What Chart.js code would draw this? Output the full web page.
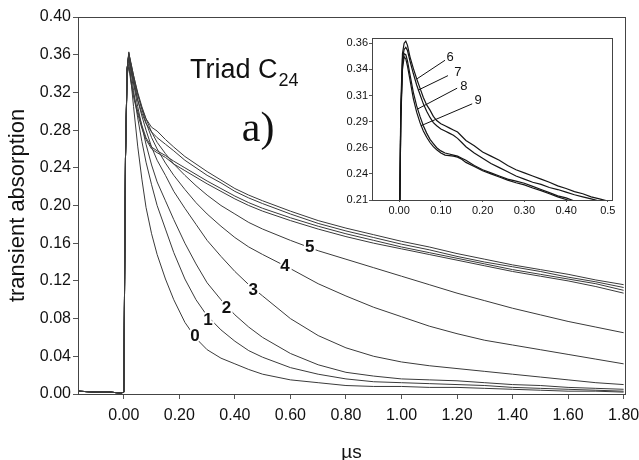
<!DOCTYPE html>
<html>
<head>
<meta charset="utf-8">
<script src="https://cdn.jsdelivr.net/npm/chart.js@4.4.1/dist/chart.umd.min.js"></script>
<style>
  html,body{margin:0;padding:0;background:#fff;}
  #wrap{position:relative;width:639px;height:460px;}
  #main{position:absolute;left:0;top:0;width:639px;height:460px;}
  #inset{position:absolute;left:330px;top:28px;width:292px;height:195px;}
</style>
</head>
<body>
<div id="wrap">
  <canvas id="main" width="639" height="460"></canvas>
  <canvas id="inset" width="292" height="195"></canvas>
</div>
<script>
// ---- main panel data (time in µs, transient absorption) ----
const time = [-0.165,-0.1,-0.05,-0.01,0.0,0.006,0.012,0.018,0.025,0.035,0.05,0.065,0.08,0.1,0.12,0.15,0.18,0.22,0.26,0.3,0.35,0.4,0.45,0.5,0.6,0.7,0.8,0.9,1.0,1.1,1.2,1.3,1.4,1.5,1.6,1.7,1.8];
const curve0 = [0.003,0.002,0.002,0.001,0.002,0.25,0.345,0.362,0.335,0.305,0.263,0.228,0.198,0.170,0.148,0.122,0.100,0.076,0.059,0.047,0.038,0.032,0.026,0.021,0.015,0.012,0.009,0.008,0.008,0.007,0.007,0.006,0.005,0.004,0.003,0.003,0.002];
const curve1 = [0.003,0.002,0.002,0.001,0.002,0.25,0.345,0.360,0.345,0.322,0.293,0.268,0.246,0.222,0.200,0.175,0.150,0.122,0.100,0.083,0.068,0.056,0.046,0.039,0.028,0.021,0.016,0.013,0.012,0.011,0.010,0.009,0.007,0.006,0.005,0.004,0.003];
const curve2 = [0.003,0.002,0.002,0.001,0.002,0.25,0.345,0.360,0.347,0.330,0.305,0.284,0.265,0.243,0.225,0.205,0.185,0.160,0.138,0.118,0.100,0.084,0.071,0.060,0.043,0.031,0.023,0.019,0.016,0.015,0.014,0.012,0.010,0.009,0.007,0.006,0.005];
const curve3 = [0.003,0.002,0.002,0.001,0.002,0.25,0.345,0.360,0.350,0.335,0.312,0.295,0.280,0.262,0.248,0.232,0.215,0.197,0.180,0.163,0.146,0.130,0.116,0.104,0.080,0.062,0.049,0.040,0.034,0.030,0.027,0.024,0.021,0.018,0.015,0.012,0.010];
const curve4 = [0.003,0.002,0.002,0.001,0.002,0.25,0.345,0.361,0.352,0.338,0.318,0.302,0.288,0.272,0.260,0.245,0.232,0.217,0.203,0.191,0.178,0.166,0.156,0.148,0.133,0.117,0.104,0.092,0.082,0.072,0.064,0.057,0.052,0.047,0.042,0.037,0.032];
const curve5 = [0.003,0.002,0.002,0.001,0.002,0.25,0.345,0.361,0.352,0.338,0.320,0.305,0.292,0.278,0.267,0.255,0.244,0.232,0.221,0.211,0.200,0.191,0.182,0.175,0.163,0.152,0.143,0.134,0.125,0.116,0.107,0.099,0.091,0.084,0.077,0.071,0.065];
const curve6 = [0.003,0.002,0.002,0.001,0.002,0.25,0.345,0.363,0.350,0.335,0.318,0.303,0.292,0.283,0.279,0.270,0.262,0.252,0.244,0.236,0.227,0.218,0.211,0.205,0.194,0.184,0.176,0.169,0.162,0.156,0.149,0.143,0.137,0.132,0.127,0.121,0.116];
const curve7 = [0.003,0.002,0.002,0.001,0.002,0.25,0.345,0.357,0.345,0.330,0.312,0.298,0.287,0.278,0.272,0.265,0.258,0.248,0.240,0.232,0.224,0.215,0.208,0.202,0.191,0.181,0.173,0.166,0.159,0.153,0.146,0.140,0.135,0.130,0.124,0.119,0.113];
const curve8 = [0.003,0.002,0.002,0.001,0.002,0.25,0.340,0.350,0.335,0.318,0.300,0.285,0.272,0.262,0.258,0.253,0.247,0.240,0.233,0.226,0.218,0.210,0.203,0.197,0.187,0.178,0.170,0.163,0.156,0.150,0.144,0.138,0.132,0.127,0.122,0.117,0.110];
const curve9 = [0.003,0.002,0.002,0.001,0.002,0.25,0.338,0.347,0.332,0.315,0.297,0.282,0.270,0.260,0.256,0.251,0.244,0.237,0.230,0.223,0.215,0.207,0.200,0.194,0.184,0.175,0.167,0.160,0.154,0.148,0.142,0.136,0.130,0.125,0.120,0.114,0.107];
const mainCurves = [curve0,curve1,curve2,curve3,curve4,curve5,curve6,curve7,curve8,curve9];

const xTicks = [0,0.2,0.4,0.6,0.8,1.0,1.2,1.4,1.6,1.8];
const yTicks = [0,0.04,0.08,0.12,0.16,0.20,0.24,0.28,0.32,0.36,0.40];

// curve numbers written on the main panel
const curveLabels = ['0','1','2','3','4','5'];
const curveLabelT = [0.256,0.303,0.370,0.466,0.580,0.670];
const curveLabelV = [0.0608,0.0785,0.0910,0.1104,0.1351,0.1557];

// ---- inset data (first 0.5 µs of curves 6..9) ----
const insetTime = [-0.065,-0.004,0.0,0.004,0.008,0.012,0.016,0.02,0.026,0.034,0.042,0.05,0.058,0.066,0.074,0.082,0.09,0.1,0.11,0.12,0.13,0.14,0.15,0.16,0.18,0.2,0.22,0.24,0.26,0.28,0.3,0.32,0.34,0.36,0.38,0.4,0.42,0.44,0.46,0.48,0.5];
const inset6 = [0.002,0.002,0.15,0.30,0.35,0.360,0.362,0.358,0.347,0.336,0.326,0.317,0.308,0.301,0.296,0.290,0.286,0.283,0.281,0.279,0.277,0.275,0.271,0.267,0.262,0.256,0.252,0.248,0.243,0.239,0.236,0.233,0.230,0.227,0.2235,0.221,0.218,0.216,0.213,0.211,0.209];
const inset7 = [0.002,0.002,0.15,0.29,0.345,0.354,0.356,0.353,0.343,0.331,0.320,0.311,0.302,0.295,0.289,0.284,0.281,0.278,0.276,0.274,0.272,0.269,0.265,0.261,0.255,0.250,0.245,0.241,0.237,0.233,0.230,0.227,0.225,0.222,0.220,0.2175,0.215,0.213,0.211,0.209,0.207];
const inset8 = [0.002,0.002,0.15,0.29,0.34,0.350,0.349,0.343,0.330,0.313,0.300,0.290,0.281,0.274,0.268,0.264,0.260,0.257,0.255,0.254,0.253,0.252,0.250,0.248,0.243,0.239,0.236,0.233,0.230,0.228,0.226,0.223,0.220,0.217,0.214,0.212,0.209,0.207,0.205,0.203,0.201];
const inset9 = [0.002,0.002,0.15,0.285,0.335,0.347,0.345,0.338,0.325,0.307,0.294,0.284,0.276,0.270,0.265,0.261,0.258,0.255,0.253,0.2525,0.252,0.251,0.249,0.246,0.242,0.238,0.235,0.232,0.229,0.2265,0.2245,0.2215,0.219,0.216,0.213,0.2105,0.208,0.206,0.204,0.202,0.200];
const insetCurves = [inset6,inset7,inset8,inset9];

const insetXTicks = [0,0.1,0.2,0.3,0.4,0.5];
const insetXLabels = ['0.00','0.10','0.20','0.30','0.40','0.5'];
const insetYTicks = [0.21,0.235,0.26,0.285,0.31,0.335,0.36];
const insetYLabels = ['0.21','0.24','0.26','0.29','0.31','0.34','0.36'];

// inset numbers with their leader lines
const insetLabels = ['6','7','8','9'];
const insetLabelT = [0.122,0.141,0.155,0.189];
const insetLabelV = [0.3462,0.3325,0.3185,0.3055];
const leaderStartT = [0.110,0.117,0.139,0.175];
const leaderStartV = [0.3437,0.329,0.317,0.302];
const leaderEndT = [0.043,0.045,0.044,0.052];
const leaderEndV = [0.326,0.315,0.297,0.281];

const SANS = '"Liberation Sans", Arial, Helvetica, sans-serif';
const SERIF = '"Liberation Serif", "Times New Roman", serif';
const LINE = '#3a3a3a';

function pts(xs, ys){ return xs.map((x,i)=>({x, y: ys[i]})); }

// box around the plotting area
const frame = {
  id:'frame',
  afterDraw(chart){
    const {ctx, chartArea:a} = chart;
    ctx.save();
    ctx.strokeStyle = '#444';
    ctx.lineWidth = 1;
    ctx.strokeRect(Math.round(a.left)+0.5, Math.round(a.top)+0.5, Math.round(a.right-a.left), Math.round(a.bottom-a.top));
    ctx.restore();
  }
};

// text written on the main panel
const mainText = {
  id:'mainText',
  afterDatasetsDraw(chart){
    const {ctx, scales:{x, y}} = chart;
    ctx.save();
    ctx.textAlign = 'center';
    ctx.textBaseline = 'middle';
    ctx.font = 'bold 17px ' + SANS;
    curveLabels.forEach((s,i)=>{
      const px = x.getPixelForValue(curveLabelT[i]), py = y.getPixelForValue(curveLabelV[i]);
      ctx.lineWidth = 4; ctx.strokeStyle = '#fff'; ctx.strokeText(s, px, py);
      ctx.fillStyle = '#111'; ctx.fillText(s, px, py);
    });
    // "Triad C24"
    ctx.textAlign = 'left';
    ctx.textBaseline = 'alphabetic';
    ctx.fillStyle = '#111';
    ctx.font = '27px ' + SANS;
    const tx = x.getPixelForValue(0.238), ty = y.getPixelForValue(0.335);
    ctx.fillText('Triad C', tx, ty);
    const w = ctx.measureText('Triad C').width;
    ctx.font = '18px ' + SANS;
    ctx.fillText('24', tx + w + 1, ty + 8);
    // "a)"
    ctx.font = '42px ' + SERIF;
    ctx.fillText('a)', x.getPixelForValue(0.425), y.getPixelForValue(0.268));
    ctx.restore();
  }
};

new Chart(document.getElementById('main'), {
  type:'line',
  data:{ datasets: mainCurves.map(c=>({
    data: pts(time, c), borderColor: LINE, borderWidth: 1, pointRadius: 0, tension: 0
  })) },
  options:{
    responsive:false, animation:false,
    layout:{ padding:{ top:17, right:14, bottom:0, left:0 } },
    plugins:{ legend:{display:false}, tooltip:{enabled:false} },
    scales:{
      x:{ type:'linear', min:-0.165, max:1.805,
        afterBuildTicks:s=>{ s.ticks = xTicks.map(v=>({value:v})); },
        afterFit:s=>{ s.height = 66; s.paddingLeft = 0; s.paddingRight = 0; },
        ticks:{ font:{family:SANS, size:16}, color:'#111', padding:7, maxRotation:0, callback:v=>v.toFixed(2) },
        grid:{ drawOnChartArea:false, tickLength:5, color:'#555' },
        border:{ color:'#333' },
        title:{ display:true, text:'µs', font:{family:SANS, size:19, lineHeight:1}, color:'#111', padding:{top:0, bottom:-2} }
      },
      y:{ min:0, max:0.40,
        afterBuildTicks:s=>{ s.ticks = yTicks.map(v=>({value:v})); },
        afterFit:s=>{ s.width = 78; s.paddingTop = 0; s.paddingBottom = 0; },
        ticks:{ font:{family:SANS, size:16}, color:'#111', padding:2, callback:v=>v.toFixed(2) },
        grid:{ drawOnChartArea:false, tickLength:5, color:'#555' },
        border:{ color:'#333' },
        title:{ display:true, text:'transient absorption', font:{family:SANS, size:22, lineHeight:1.2}, color:'#111', padding:{top:5, bottom:0} }
      }
    }
  },
  plugins:[frame, mainText]
});

// numbers 6..9 in the inset
const insetText = {
  id:'insetText',
  afterDatasetsDraw(chart){
    const {ctx, scales:{x, y}} = chart;
    ctx.save();
    ctx.font = '13px ' + SANS;
    ctx.fillStyle = '#111';
    ctx.textAlign = 'center';
    ctx.textBaseline = 'middle';
    insetLabels.forEach((s,i)=>{
      ctx.fillText(s, x.getPixelForValue(insetLabelT[i]), y.getPixelForValue(insetLabelV[i]));
    });
    ctx.restore();
  }
};

const leaderSets = insetLabels.map((s,i)=>({
  data:[{x:leaderStartT[i], y:leaderStartV[i]}, {x:leaderEndT[i], y:leaderEndV[i]}],
  borderColor:'#111', borderWidth:1, pointRadius:0
}));

new Chart(document.getElementById('inset'), {
  type:'line',
  data:{ datasets: insetCurves.map(c=>({
    data: pts(insetTime, c), borderColor:'#151515', borderWidth:1.2, pointRadius:0, tension:0
  })).concat(leaderSets) },
  options:{
    responsive:false, animation:false,
    layout:{ padding:{ top:10, right:10, bottom:0, left:0 } },
    plugins:{ legend:{display:false}, tooltip:{enabled:false} },
    scales:{
      x:{ type:'linear', min:-0.065, max:0.51,
        afterBuildTicks:s=>{ s.ticks = insetXTicks.map(v=>({value:v})); },
        afterFit:s=>{ s.height = 23; s.paddingLeft = 0; s.paddingRight = 0; },
        ticks:{ font:{family:SANS, size:11}, color:'#111', padding:2, maxRotation:0,
          callback:(v,i)=>insetXLabels[i] },
        grid:{ drawOnChartArea:false, tickLength:2, color:'#555' },
        border:{ color:'#333' }
      },
      y:{ min:0.21, max:0.365,
        afterBuildTicks:s=>{ s.ticks = insetYTicks.map(v=>({value:v})); },
        afterFit:s=>{ s.width = 42; s.paddingTop = 0; s.paddingBottom = 0; },
        ticks:{ font:{family:SANS, size:11}, color:'#111', padding:1,
          callback:(v,i)=>insetYLabels[i] },
        grid:{ drawOnChartArea:false, tickLength:3, color:'#555' },
        border:{ color:'#333' }
      }
    }
  },
  plugins:[frame, insetText]
});
</script>
</body>
</html>
